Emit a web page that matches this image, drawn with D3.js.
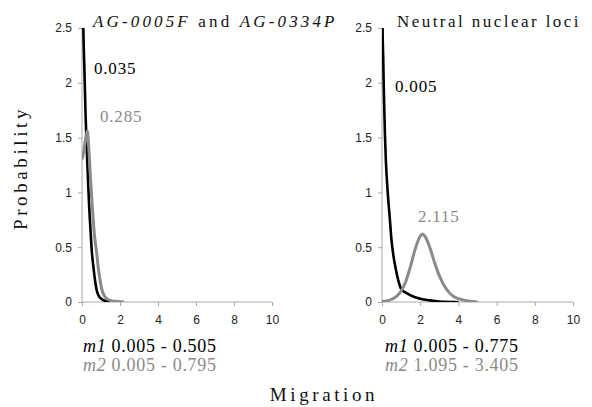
<!DOCTYPE html>
<html>
<head>
<meta charset="utf-8">
<script src="https://cdn.jsdelivr.net/npm/d3@7"></script>
<style>
  html, body { margin: 0; padding: 0; background: #fff; }
  svg { display: block; }
  .tick text { font-family: "Liberation Sans", Arial, sans-serif; font-size: 12px; fill: #222; }
  .tick line, .domain { stroke: #aaa; }
</style>
</head>
<body>
<svg id="chart" width="592" height="407"></svg>
<script>
// ---------------- data ----------------
const yTicks = [0, 0.5, 1, 1.5, 2, 2.5];
const xTicks = [0, 2, 4, 6, 8, 10];

// Left panel: AG-0005F and AG-0334P
const leftM1X = [0.005, 0.07, 0.13, 0.19, 0.25, 0.32, 0.37, 0.45, 0.5, 0.6, 0.7, 0.77, 0.9, 1.1, 1.3, 1.5];
const leftM1Y = [3.4, 2.5, 2.1, 1.7, 1.4, 1.1, 0.9, 0.65, 0.5, 0.32, 0.18, 0.11, 0.05, 0.02, 0.005, 0.0];
const leftM2X = [0.0, 0.1, 0.2, 0.28, 0.35, 0.45, 0.55, 0.65, 0.77, 0.85, 0.95, 1.05, 1.2, 1.4, 1.6, 1.9, 2.2];
const leftM2Y = [1.3, 1.38, 1.5, 1.56, 1.42, 1.12, 0.85, 0.62, 0.45, 0.32, 0.2, 0.11, 0.05, 0.02, 0.01, 0.005, 0.0];

// Right panel: Neutral nuclear loci
const rightM1X = [0.005, 0.03, 0.06, 0.1, 0.15, 0.2, 0.3, 0.4, 0.5, 0.6, 0.7, 0.85, 1.0, 1.2, 1.4, 1.7, 2.0, 2.5, 3.0, 4.0];
const rightM1Y = [3.2, 2.5, 2.25, 1.9, 1.55, 1.3, 1.0, 0.78, 0.56, 0.42, 0.32, 0.2, 0.12, 0.09, 0.07, 0.045, 0.03, 0.015, 0.005, 0.0];
const rightM2X = [0.0, 0.25, 0.5, 0.75, 1.0, 1.25, 1.5, 1.75, 2.0, 2.115, 2.25, 2.5, 2.75, 3.0, 3.25, 3.5, 3.75, 4.0, 4.5, 5.0];
const rightM2Y = [0.005, 0.01, 0.025, 0.05, 0.1, 0.19, 0.33, 0.49, 0.6, 0.62, 0.6, 0.5, 0.36, 0.24, 0.15, 0.09, 0.05, 0.03, 0.01, 0.0];

const panelTitles = ["AG-0005F and AG-0334P", "Neutral nuclear loci"];
const modeLabels = [["0.035", "0.285"], ["0.005", "2.115"]];
const rangeM1 = ["0.005 - 0.505", "0.005 - 0.775"];
const rangeM2 = ["0.005 - 0.795", "1.095 - 3.405"];
const xTitle = "Migration";
const yTitle = "Probability";

// ---------------- drawing ----------------
const SERIF = "'Liberation Serif', 'DejaVu Serif', serif";
const svg = d3.select("#chart");
const GRAY = "#8a8a8a";
const y = d3.scaleLinear().domain([0, 2.5]).range([302, 28]);
const panels = [
  { x: d3.scaleLinear().domain([0, 10]).range([82, 272]),
    m1: d3.zip(leftM1X, leftM1Y), m2: d3.zip(leftM2X, leftM2Y) },
  { x: d3.scaleLinear().domain([0, 10]).range([382, 573]),
    m1: d3.zip(rightM1X, rightM1Y), m2: d3.zip(rightM2X, rightM2Y) }
];

panels.forEach((p, i) => {
  const g = svg.append("g");
  g.append("g").attr("transform", "translate(0,302)")
    .call(d3.axisBottom(p.x).tickValues(xTicks).tickSize(4).tickPadding(9).tickFormat(d => String(d)))
    .call(s => s.select(".domain").attr("d", `M${p.x(0)},0H${p.x(10)}`));
  g.append("g").attr("transform", `translate(${p.x(0)},0)`)
    .call(d3.axisLeft(y).tickValues(yTicks).tickSize(4).tickPadding(6).tickFormat(d => String(d)))
    .call(s => s.select(".domain").attr("d", `M0,${y(2.5)}V${y(0)}`));

  const clipId = "clip" + i;
  svg.append("clipPath").attr("id", clipId).append("rect")
    .attr("x", p.x(0)).attr("y", y(2.5)).attr("width", p.x(10) - p.x(0)).attr("height", y(0) - y(2.5));

  const line = d3.line().x(d => p.x(d[0])).y(d => y(d[1])).curve(d3.curveMonotoneX);
  g.append("path").datum(p.m1).attr("clip-path", `url(#${clipId})`)
    .attr("d", line).attr("fill", "none").attr("stroke", "#000").attr("stroke-width", 2.6);
  g.append("path").datum(p.m2).attr("clip-path", `url(#${clipId})`)
    .attr("d", line).attr("fill", "none").attr("stroke", GRAY).attr("stroke-width", 3);
});

function serifText(x, yy, size, spacing, fill) {
  return svg.append("text").attr("x", x).attr("y", yy)
    .attr("font-family", SERIF).attr("font-size", size)
    .attr("letter-spacing", spacing).attr("fill", fill);
}

// Titles
const t0 = serifText(93, 27, 17, 3.15, "#111");
const parts0 = panelTitles[0].split(" and ");
t0.append("tspan").attr("font-style", "italic").text(parts0[0]);
t0.append("tspan").text(" and ");
t0.append("tspan").attr("font-style", "italic").text(parts0[1]);
serifText(397, 27, 17, 2.45, "#111").text(panelTitles[1]);

// Mode annotations
const ann = [
  { x: 94, y: 74, t: modeLabels[0][0], c: "#000" },
  { x: 100, y: 122, t: modeLabels[0][1], c: GRAY },
  { x: 395, y: 92, t: modeLabels[1][0], c: "#000" },
  { x: 418, y: 222, t: modeLabels[1][1], c: GRAY }
];
ann.forEach(a => serifText(a.x, a.y, 17, 0.8, a.c).text(a.t));

// Range annotations
[83, 385].forEach((x0, i) => {
  const a = serifText(x0, 352, 18, 0.7, "#000");
  a.append("tspan").attr("font-style", "italic").text("m1");
  a.append("tspan").text(" " + rangeM1[i]);
  const b = serifText(x0, 371, 18, 0.7, GRAY);
  b.append("tspan").attr("font-style", "italic").text("m2");
  b.append("tspan").text(" " + rangeM2[i]);
});

// Axis titles
serifText(324, 401, 19, 3.6, "#111").attr("text-anchor", "middle").text(xTitle);
serifText(0, 0, 19, 3.6, "#111").attr("text-anchor", "middle")
  .attr("transform", "translate(27,168) rotate(-90)").text(yTitle);
</script>
</body>
</html>
